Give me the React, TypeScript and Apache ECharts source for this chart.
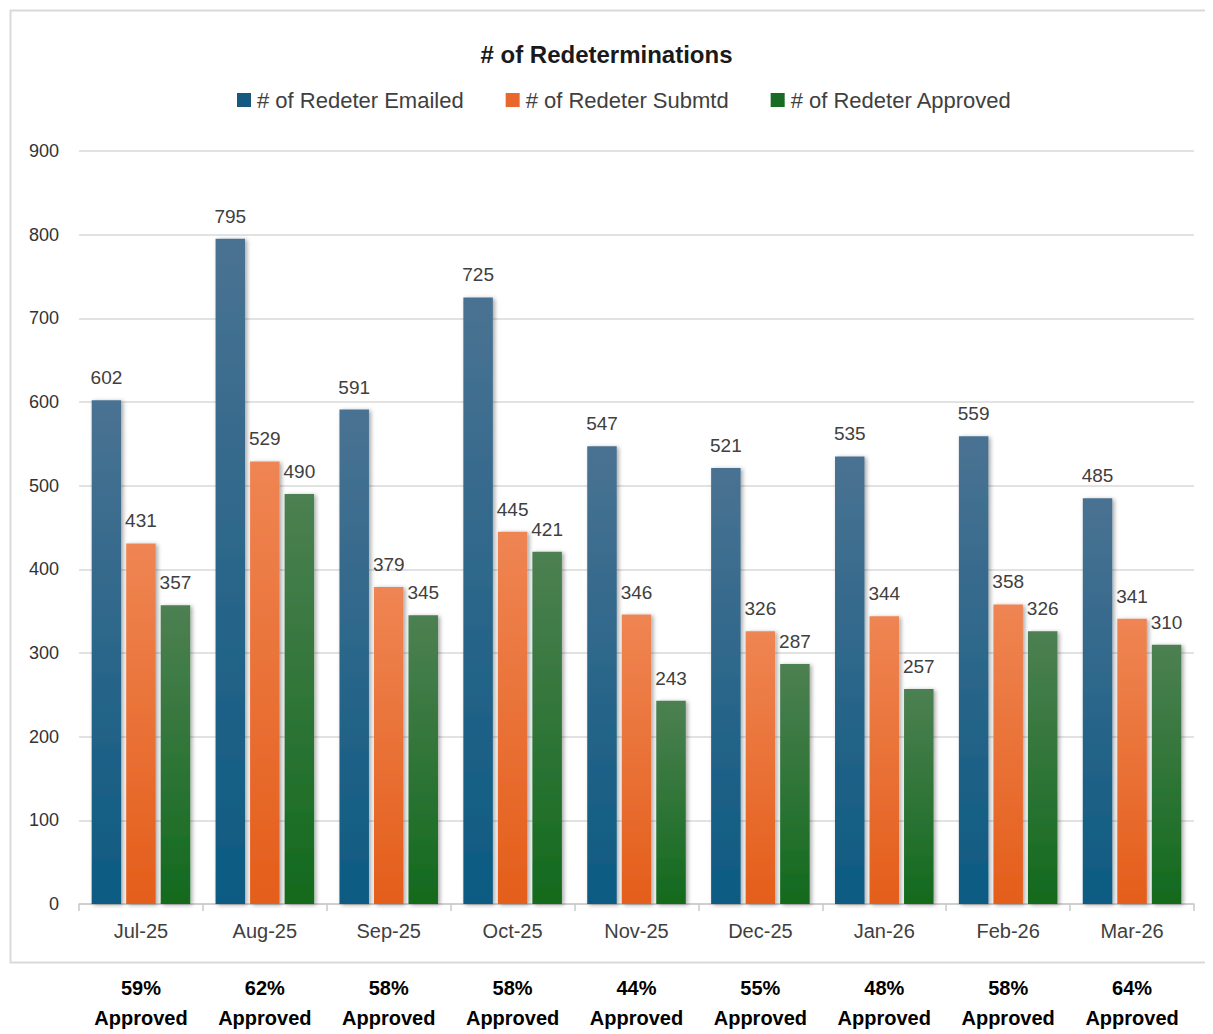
import React, { useEffect, useRef } from "react";
import * as echarts from "echarts";

const categories = ["Jul-25", "Aug-25", "Sep-25", "Oct-25", "Nov-25", "Dec-25", "Jan-26", "Feb-26", "Mar-26"];
const emailed = [602, 795, 591, 725, 547, 521, 535, 559, 485];
const submitted = [431, 529, 379, 445, 346, 326, 344, 358, 341];
const approved = [357, 490, 345, 421, 243, 287, 257, 326, 310];
const approvalPct = [59, 62, 58, 58, 44, 55, 48, 58, 64];
const yTicks = { min: 0, max: 900, interval: 100 };

const FONT = "'Liberation Sans', Arial, sans-serif";

function grad(top: string, bottom: string) {
  return new echarts.graphic.LinearGradient(0, 0, 0, 1, [
    { offset: 0, color: top },
    { offset: 1, color: bottom },
  ]);
}

function barSeries(name: string, data: number[], top: string, bottom: string, legendColor: string) {
  return {
    name,
    type: "bar",
    data,
    barWidth: 29.5,
    barGap: "17%",
    itemStyle: {
      color: grad(top, bottom),
      shadowColor: "rgba(0,0,0,0.35)",
      shadowBlur: 4,
      shadowOffsetX: 2,
      shadowOffsetY: 1,
    },
    label: {
      show: true,
      position: "top",
      distance: 13,
      fontFamily: FONT,
      fontSize: 19,
      color: "#404040",
    },
    emphasis: { disabled: true },
    _legendColor: legendColor,
  };
}

export default function App() {
  const ref = useRef<HTMLDivElement>(null);
  useEffect(() => {
    document.body.style.overflow = "hidden";
    const chart = echarts.init(ref.current!, null, { renderer: "svg" });
    const series = [
      barSeries("# of Redeter Emailed", emailed, "#4a7292", "#0c5a82", "#17587e"),
      barSeries("# of Redeter Submtd", submitted, "#ef8553", "#e45e1a", "#e9672a"),
      barSeries("# of Redeter Approved", approved, "#4d8052", "#126a1d", "#176b22"),
    ];
    chart.setOption({
      animation: false,
      backgroundColor: "#ffffff",
      title: {
        text: "# of Redeterminations",
        left: "center",
        top: 29,
        textStyle: { fontFamily: FONT, fontSize: 24, fontWeight: "bold", color: "#1a1a1a" },
      },
      legend: {
        left: 224,
        top: 76,
        itemWidth: 14,
        itemHeight: 14,
        itemGap: 42,
        icon: "rect",
        textStyle: { fontFamily: FONT, fontSize: 22, color: "#404040", padding: [0, 0, 0, 1] },
        data: series.map((s) => ({
          name: s.name,
          itemStyle: { color: s._legendColor, shadowBlur: 0, shadowOffsetX: 0, shadowOffsetY: 0 },
        })),
      },
      grid: { left: 71, right: 11, top: 143, bottom: 130, containLabel: false },
      xAxis: [
        {
          type: "category",
          data: categories,
          position: "bottom",
          axisLine: { show: true, lineStyle: { color: "#c9c9c9", width: 1.5 } },
          axisTick: { show: true, length: 7, lineStyle: { color: "#c9c9c9", width: 1.5 } },
          axisLabel: { margin: 17, fontFamily: FONT, fontSize: 20, color: "#404040" },
          splitLine: { show: false },
        },
        {
          type: "category",
          data: categories,
          position: "bottom",
          axisLine: { show: false },
          axisTick: { show: false },
          splitLine: { show: false },
          axisLabel: {
            margin: 69,
            fontFamily: FONT,
            fontSize: 20,
            fontWeight: "bold",
            color: "#000000",
            lineHeight: 30,
            formatter: (_v: string, i: number) => `${approvalPct[i]}%\nApproved`,
          },
        },
      ],
      yAxis: {
        type: "value",
        min: yTicks.min,
        max: yTicks.max,
        interval: yTicks.interval,
        axisLine: { show: false },
        axisTick: { show: false },
        axisLabel: { margin: 20, fontFamily: FONT, fontSize: 18, color: "#333333" },
        splitLine: { lineStyle: { color: "#d9d9d9", width: 1.5 } },
      },
      graphic: [
        {
          type: "rect",
          left: 0,
          top: 0,
          z: -1,
          silent: true,
          shape: { x: 0, y: 0, width: 1230, height: 952 },
          style: { fill: "none", stroke: "#d9d9d9", lineWidth: 2 },
        },
      ],
      series: series.map(({ _legendColor, ...s }) => s),
    });
    return () => chart.dispose();
  }, []);
  return <div ref={ref} style={{ width: "100%", height: 1026 }} />;
}
